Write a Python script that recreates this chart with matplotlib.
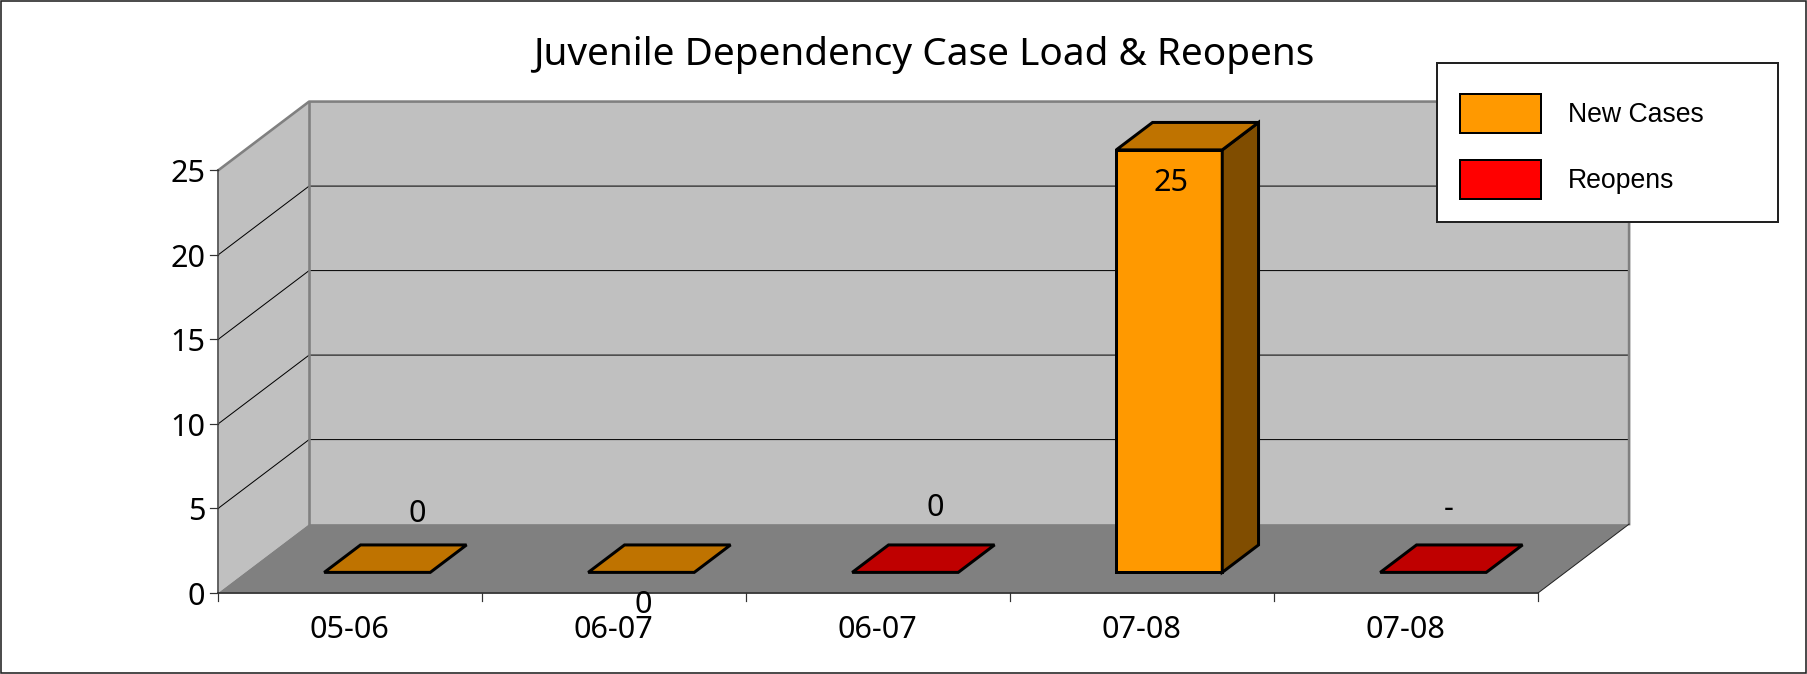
import matplotlib
matplotlib.use('Agg')
import matplotlib.pyplot as plt
from matplotlib.patches import Polygon, Rectangle, Patch
from matplotlib.transforms import Affine2D

# data
categories = ['05-06', '06-07', '06-07', '07-08', '07-08']
series = ['New Cases', 'New Cases', 'Reopens', 'New Cases', 'Reopens']
values = [0, 0, 0, 25, 0]
labels = ['0', '0', '0', '25', '-']
yticks = [0, 5, 10, 15, 20, 25]

# label offsets from the bar front centre, in pixels
label_dx = [40, 2, 30, 2, 15]
label_dy = [58, -33, 64, -33, 63]

front = {'New Cases': '#FF9900', 'Reopens': '#FF0000'}
top = {'New Cases': '#BF7300', 'Reopens': '#BF0000'}
side = {'New Cases': '#804D00', 'Reopens': '#800000'}

W, H = 1807, 674
x0, y0 = 218.4, 592.7      # pixel position of the origin
cat_w, val_h = 264.0, 16.9
DX, DY = 0.3436, 4.06      # depth of the box
bar_w = 0.4015
d0, d1 = 0.296, 0.696      # depth range of the bars
font = 'Noto Sans'
px = 0.72                  # one pixel in points

fig = plt.figure(figsize=(W / 100, H / 100), dpi=100)
ax = fig.add_axes([0, 0, 1, 1])
ax.set_xlim(-x0 / cat_w, (W - x0) / cat_w)
ax.set_ylim((y0 - H) / val_h, y0 / val_h)
ax.axis('off')


def pr(c, v, d=0.0):
    return (c + d * DX, v + d * DY)


def poly(pts, fc, ec='none', lw=0, z=1):
    ax.add_patch(Polygon(pts, closed=True, facecolor=fc, edgecolor=ec,
                         linewidth=lw, zorder=z, joinstyle='miter'))


n = len(categories)
ymax = max(yticks)

# walls and floor
poly([pr(0, 0, 1), pr(n, 0, 1), pr(n, ymax, 1), pr(0, ymax, 1)], '#C0C0C0')
poly([pr(0, 0), pr(0, 0, 1), pr(0, ymax, 1), pr(0, ymax)], '#C0C0C0')
poly([pr(0, 0), pr(n, 0), pr(n, 0, 1), pr(0, 0, 1)], '#808080')

# grid
for t in yticks[1:-1]:
    a, b, c = pr(0, t), pr(0, t, 1), pr(n, t, 1)
    ax.plot([a[0], b[0], c[0]], [a[1], b[1], c[1]], color='black', lw=1 * px, zorder=2)

# wall edges
a, b, c, d, e = pr(0, ymax), pr(0, ymax, 1), pr(n, ymax, 1), pr(n, 0, 1), pr(0, 0, 1)
ax.plot([a[0], b[0], c[0], d[0]], [a[1], b[1], c[1], d[1]], color='#808080', lw=2.6 * px, zorder=3)
ax.plot([b[0], e[0]], [b[1], e[1]], color='#808080', lw=2.6 * px, zorder=3)

# axes lines and ticks
ax.plot([0, 0], [0, ymax], color='#555555', lw=1.8 * px, zorder=3)
ax.plot([0, n], [0, 0], color='#333333', lw=1.8 * px, zorder=3)
f, g = pr(n, 0), pr(n, 0, 1)
ax.plot([f[0], g[0]], [f[1], g[1]], color='#222222', lw=1 * px, zorder=3)
for t in yticks:
    ax.plot([-8 / cat_w, 0], [t, t], color='#333333', lw=1.2 * px, zorder=3)
    ax.annotate(str(t), (0, t), xytext=(-13, -4), textcoords='offset pixels',
                ha='right', va='center', fontsize=22, family=font, color='black')
for i in range(n + 1):
    ax.plot([i, i], [0, -8 / val_h], color='#333333', lw=1.2 * px, zorder=3)
for i, cat in enumerate(categories):
    ax.annotate(cat, (i + 0.5, 0), xytext=(-1, -37), textcoords='offset pixels',
                ha='center', va='center', fontsize=22, family=font, color='black')

# bars
for i in range(n):
    v, s = values[i], series[i]
    cx = i + 0.5
    l, r = cx - bar_w / 2, cx + bar_w / 2
    edge = dict(ec='black', lw=3 * px, z=5)
    if v > 0:
        poly([pr(l, 0, d0), pr(r, 0, d0), pr(r, v, d0), pr(l, v, d0)], front[s], **edge)
        poly([pr(r, 0, d0), pr(r, 0, d1), pr(r, v, d1), pr(r, v, d0)], side[s], **edge)
    poly([pr(l, v, d0), pr(r, v, d0), pr(r, v, d1), pr(l, v, d1)], top[s], **edge)
    ax.annotate(labels[i], pr(cx, v, d0), xytext=(label_dx[i], label_dy[i]),
                textcoords='offset pixels', ha='center', va='center',
                fontsize=22, family=font, color='black', zorder=6)

# title
fig.text(924 / W, 1 - 55 / H, 'Juvenile Dependency Case Load & Reopens', ha='center',
         va='center', fontsize=27.9, family=font, color='black')

# legend, the frame is wider than a legend would make it by itself
to_px = Affine2D().scale(1, -1).translate(0, H)
fig.add_artist(Rectangle((1436.6, 63.3), 341.4, 159, transform=to_px, facecolor='white',
                         edgecolor='#222222', linewidth=2 * px, zorder=8))
handles = [Patch(facecolor=front[k], edgecolor='black', linewidth=2 * px)
           for k in ['New Cases', 'Reopens']]
leg = ax.legend(handles, ['New Cases', 'Reopens'], loc='upper left',
                bbox_to_anchor=(1459.5 / W, 1 - 94 / H), bbox_transform=fig.transFigure,
                frameon=False, borderpad=0, borderaxespad=0, handlelength=3.04,
                handleheight=1.885, handletextpad=1.03, labelspacing=1.0,
                prop={'family': 'Liberation Sans', 'size': 19.2})
leg.set_zorder(9)
fig.add_artist(leg)

# outer border
fig.add_artist(Rectangle((1, 1), W - 2, H - 2, transform=to_px, fill=False,
                         edgecolor='#222222', linewidth=1.6 * px, zorder=10))

fig.savefig('out.png', dpi=100)
